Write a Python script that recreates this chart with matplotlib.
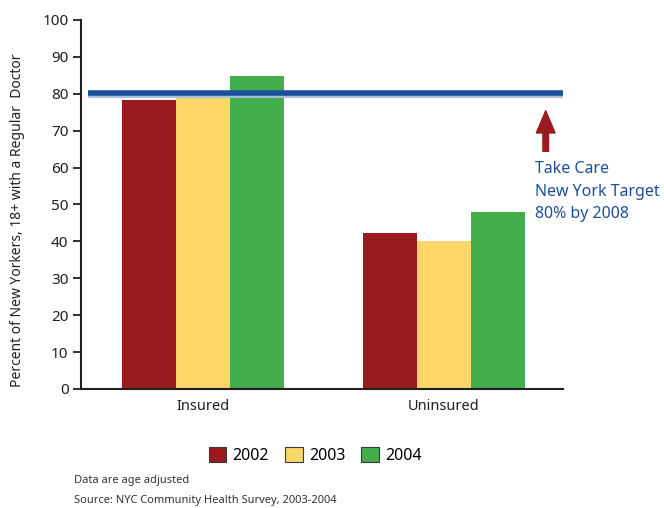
import numpy as np
import matplotlib.pyplot as plt
from matplotlib.patches import Patch

# dados
grupos = ['Insured', 'Uninsured']
anos = ['2002', '2003', '2004']
v2002 = [78.3, 42.3]
v2003 = [79.5, 40.0]
v2004 = [84.8, 48.0]
meta = 80

CORES = ['#9A1B1F', '#FDD66A', '#43AE4C']
AZUL = '#1B4F9C'

plt.rcParams['font.family'] = ['Noto Sans', 'DejaVu Sans']

fig = plt.figure(figsize=(6.64, 5.08), dpi=100)
ax = fig.add_axes([0.122, 0.2343, 0.726, 0.7264])

x = np.arange(len(grupos))
w = 0.224
for i, vals in enumerate([v2002, v2003, v2004]):
    ax.bar(x + (i - 1) * w, vals, width=w, color=CORES[i], zorder=2)

# linha da meta
ax.plot([-0.477, 1.494], [meta - 0.2, meta - 0.2], color='#A9BCDD', lw=4.3, zorder=3,
        solid_capstyle='butt')
ax.plot([-0.477, 1.494], [meta + 0.3, meta + 0.3], color=AZUL, lw=4.0, zorder=4,
        solid_capstyle='butt')

# seta
ax.annotate('', xy=(1.422, 75.4), xytext=(1.422, 64.4),
            arrowprops=dict(width=4, headwidth=13.5, headlength=16,
                            color='#9A1B1F', shrink=0))
ax.text(1.378, 61.8, 'Take Care\nNew York Target\n80% by 2008', color=AZUL,
        fontsize=11.5, va='top', ha='left', linespacing=1.55)

ax.set_xlim(-0.506, 1.494)
ax.set_ylim(0, 100)
ax.set_yticks(np.arange(0, 101, 10))
ax.set_xticks(x)
ax.set_xticklabels(grupos, fontsize=10.5, color='#231F20')
ax.tick_params(axis='x', length=0, pad=7)
ax.tick_params(axis='y', length=6, width=1.3, labelsize=11, colors='#231F20', pad=3)
for s in ['top', 'right']:
    ax.spines[s].set_visible(False)
for s in ['left', 'bottom']:
    ax.spines[s].set_linewidth(1.5)
    ax.spines[s].set_color('#231F20')
ax.set_ylabel('Percent of New Yorkers, 18+ with a Regular  Doctor', fontsize=10,
              color='#231F20')
ax.yaxis.set_label_coords(-0.116, 0.458)

handles = [Patch(facecolor=CORES[i], edgecolor='#3a3a3a', lw=0.8, label=anos[i])
           for i in range(3)]
fig.legend(handles=handles, loc='center', bbox_to_anchor=(0.475, 0.104), ncol=3,
           frameon=False, fontsize=11.5, handlelength=1.1, handleheight=1.1,
           handletextpad=0.4, columnspacing=1.0)

fig.text(74 / 664, 1 - 480 / 508, 'Data are age adjusted', fontsize=8,
         color='#333333', va='center')
fig.text(74 / 664, 1 - 500 / 508, 'Source: NYC Community Health Survey, 2003-2004',
         fontsize=8, color='#333333', va='center')

fig.savefig('out.png', dpi=100)
